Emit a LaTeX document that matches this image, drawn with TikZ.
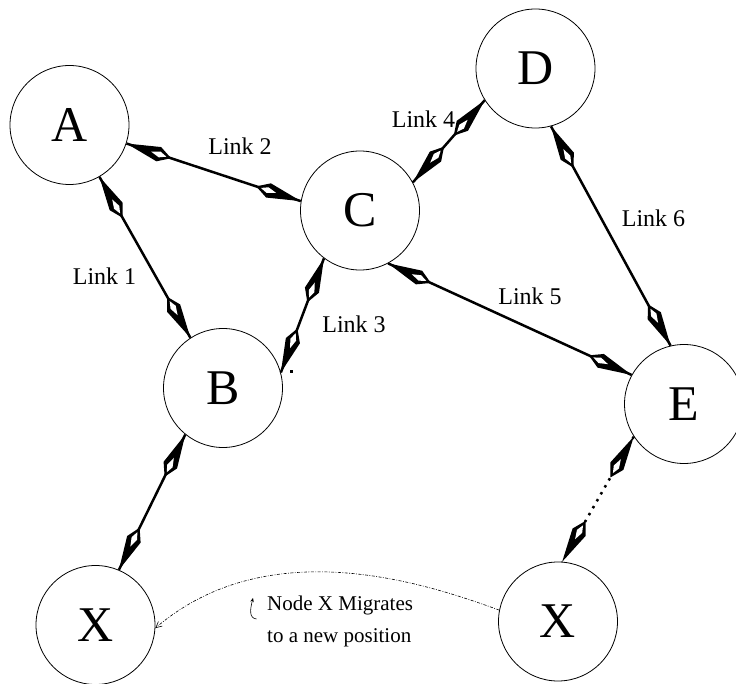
\documentclass[tikz,border=0pt]{standalone}
\usepackage{fontspec}
\setmainfont{Liberation Serif}
\usetikzlibrary{decorations.markings,arrows.meta}
\newcommand\kitefwd{%
  \fill[black] (0,0) -- (-34,7.5) -- (-47,0) -- (-34,-7.5) -- cycle;
  \fill[white] (-26,0) -- (-35,3) -- (-42,0) -- (-35,-3) -- cycle;}
\newcommand\kiteback{%
  \fill[black] (0,0) -- (34,7.5) -- (47,0) -- (34,-7.5) -- cycle;
  \fill[white] (26,0) -- (35,3) -- (42,0) -- (35,-3) -- cycle;}
\tikzset{
  nd/.style={circle, draw, line width=0.8pt, minimum size=119pt, inner sep=0pt,
    font=\fontsize{50}{60}\selectfont},
  lbl/.style={anchor=base, inner sep=0pt, font=\fontsize{24}{29}\selectfont},
  link/.style={line width=2.5pt,
    decoration={markings,
      mark=at position 0 with {\kiteback},
      mark=at position 1 with {\kitefwd}},
    postaction={decorate}},
  dotlink/.style={link, dash pattern=on 2.5pt off 5.5pt},
  migr/.style={line width=0.6pt, dash pattern=on 3pt off 1.5pt on 0.8pt off 1.5pt,
    -{Straight Barb[length=6pt,width=6pt]}},
}
\begin{document}
\begin{tikzpicture}[x=1pt,y=-1pt]
\useasboundingbox (0,0) rectangle (736,684);
\fill[white] (0,0) rectangle (736,684);
% nodes
\node[nd] (A)  at (69.5,125)   {A};
\node[nd] (B)  at (223,388)    {B};
\node[nd] (C)  at (360,210.5)  {C};
\node[nd] (D)  at (535.5,68.5) {D};
\node[nd] (E)  at (684,404)    {E};
\node[nd] (X1) at (95.5,625)   {X};
\node[nd] (X2) at (558,621.5)  {X};
% links
\draw[link] (A.-60.5) -- (B.123.4);
\draw[link] (A.-18) -- (C.171);
\draw[link] (C.233) -- (B.15);
\draw[link] (D.212) -- (C.28);
\draw[link] (C.-62) -- (E.151);
\draw[link] (D.-75) -- (E.103);
\draw[link] (B.231) -- (X1.67);
\draw[dotlink] (E.213) -- (X2.86);
\fill (290,370.5) rectangle (293,373.5);
% labels
\node[lbl] (l1) at (104.5,285) {Link 1};
\node[lbl] (l2) at (240,155) {Link 2};
\node[lbl] (l3) at (354,333) {Link 3};
\node[lbl] (l4) at (423.5,128) {Link 4};
\node[lbl] (l5) at (530,305) {Link 5};
\node[lbl] (l6) at (653.5,227) {Link 6};
% migration
\draw[migr] (X2.169) .. controls (430,585) and (270,530) .. (X1.-3);
\node[anchor=north west, inner sep=0pt, align=left,
  font=\fontsize{21}{32}\selectfont] (note) at (267,596) {Node X Migrates\\to a new position};
\coordinate (hk1) at (256.5,619);
\coordinate (hk2) at (253,598);
\draw[line width=0.6pt, -{Stealth[length=4pt,width=3.5pt]}] (hk1) .. controls (249,618) and (250,610) .. (hk2);
\end{tikzpicture}
\end{document}
